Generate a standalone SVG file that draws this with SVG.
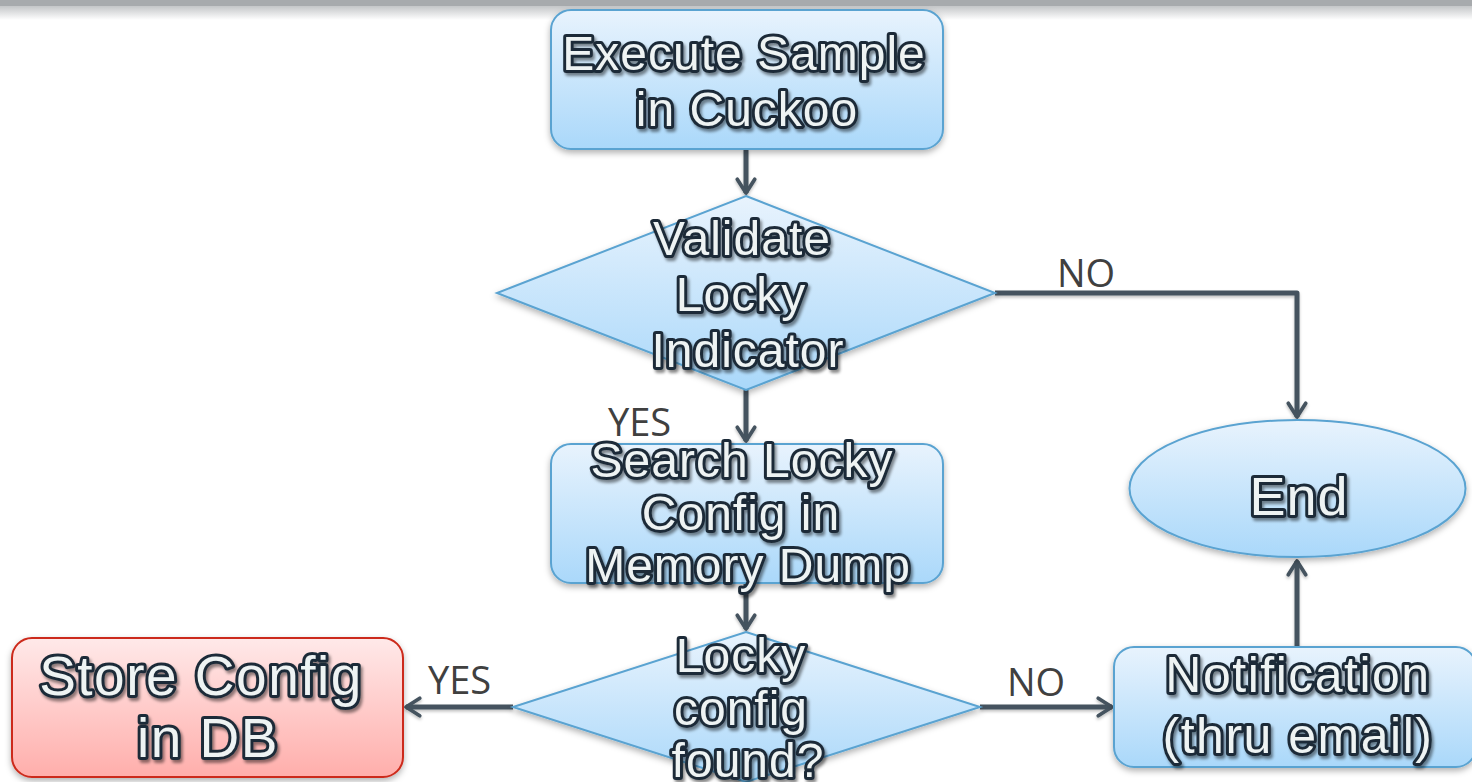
<svg xmlns="http://www.w3.org/2000/svg" width="1472" height="782" viewBox="0 0 1472 782">
<defs>
<linearGradient id="blue" x1="0" y1="0" x2="0" y2="1">
<stop offset="0" stop-color="#e8f3fd"/>
<stop offset="1" stop-color="#aad8fa"/>
</linearGradient>
<linearGradient id="red" x1="0" y1="0" x2="0" y2="1">
<stop offset="0" stop-color="#ffe9e9"/>
<stop offset="1" stop-color="#ffaeab"/>
</linearGradient>
<linearGradient id="topbar" x1="0" y1="0" x2="0" y2="1">
<stop offset="0" stop-color="#c4c6c8"/>
<stop offset="1" stop-color="#ffffff"/>
</linearGradient>
<filter id="shapeShadow" x="-10%" y="-10%" width="120%" height="130%">
<feDropShadow dx="0" dy="3" stdDeviation="3" flood-color="#000" flood-opacity="0.3"/>
</filter>
<filter id="textShadow" x="-10%" y="-20%" width="120%" height="150%">
<feDropShadow dx="2" dy="3" stdDeviation="1.8" flood-color="#000" flood-opacity="0.45"/>
</filter>
<filter id="lineShadow" x="-10%" y="-10%" width="120%" height="130%">
<feDropShadow dx="0" dy="2" stdDeviation="1.5" flood-color="#000" flood-opacity="0.25"/>
</filter>
<marker id="arrow" viewBox="0 0 20 20" refX="15" refY="10" markerWidth="5" markerHeight="5" orient="auto" markerUnits="strokeWidth">
<path d="M4 3 L15 10 L4 17" fill="none" stroke="#44535e" stroke-width="3" stroke-linecap="round" stroke-linejoin="round"/>
</marker>
<style>
.box{fill:url(#blue);stroke:#5aa3d1;stroke-width:2;filter:url(#shapeShadow)}
.rbox{fill:url(#red);stroke:#cc2a1a;stroke-width:2;filter:url(#shapeShadow)}
.t{font-family:"Liberation Sans",Arial,sans-serif;font-size:48px;letter-spacing:1px;fill:#eef3f3;stroke:#1e2c38;stroke-width:6;stroke-linejoin:round;paint-order:stroke;text-anchor:middle;filter:url(#textShadow)}
.lbl{font-family:"Open Sans","Liberation Sans",sans-serif;font-size:38px;fill:#404040}
.c{fill:none;stroke:#44535e;stroke-width:5;stroke-linejoin:round;marker-end:url(#arrow)}
</style>
</defs>
<rect x="0" y="0" width="1472" height="782" fill="#ffffff"/>
<rect x="0" y="6" width="1472" height="14" fill="url(#topbar)"/>
<rect x="0" y="0" width="1472" height="6" fill="#a7aaad"/>

<g id="connectors" filter="url(#lineShadow)">
<path class="c" d="M746 149 L746 193"/>
<path class="c" d="M746 390 L746 441"/>
<path class="c" d="M746 583 L746 629"/>
<path class="c" d="M513 707 L406 707"/>
<path class="c" d="M980 707 L1112 707"/>
<path class="c" d="M1297 647 L1297 561"/>
<path class="c" d="M995 293 L1297 293 L1297 417"/>
</g>

<g id="labels">
<text class="lbl" x="608" y="436">YES</text>
<text class="lbl" x="1057" y="287">NO</text>
<text class="lbl" x="428" y="694">YES</text>
<text class="lbl" x="1007" y="696">NO</text>
</g>

<g id="execute">
<rect class="box" x="551" y="10" width="392" height="139" rx="20"/>
<text class="t" x="744" y="70">Execute Sample</text>
<text class="t" x="747" y="126">in Cuckoo</text>
</g>

<g id="validate">
<polygon class="box" points="746,196 995,293 746,390 497,293"/>
<text class="t" x="742" y="255">Validate</text>
<text class="t" x="741" y="311">Locky</text>
<text class="t" x="748" y="367">Indicator</text>
</g>

<g id="search">
<rect class="box" x="551" y="444" width="392" height="139" rx="20"/>
<text class="t" x="742" y="477">Search Locky</text>
<text class="t" x="741" y="530">Config in</text>
<text class="t" x="748" y="582">Memory Dump</text>
</g>

<g id="found">
<polygon class="box" points="746,632 980,707 746,782 513,707"/>
<text class="t" x="741" y="672">Locky</text>
<text class="t" x="741" y="725">config</text>
<text class="t" x="748" y="777">found?</text>
</g>

<g id="store">
<rect class="rbox" x="12" y="638" width="391" height="139" rx="20"/>
<text class="t" x="201" y="695" style="font-size:55px;letter-spacing:1.5px">Store Config</text>
<text class="t" x="208" y="757" style="font-size:55px;letter-spacing:1.5px">in DB</text>
</g>

<g id="notification">
<rect class="box" x="1114" y="647" width="362" height="120" rx="20"/>
<text class="t" x="1298" y="692" style="font-size:50px;letter-spacing:1.5px">Notification</text>
<text class="t" x="1298" y="753" style="font-size:50px;letter-spacing:1.5px">(thru email)</text>
</g>

<g id="end">
<ellipse class="box" cx="1297.5" cy="488.5" rx="168" ry="68.5"/>
<text class="t" x="1299" y="515" style="font-size:54px">End</text>
</g>
</svg>
